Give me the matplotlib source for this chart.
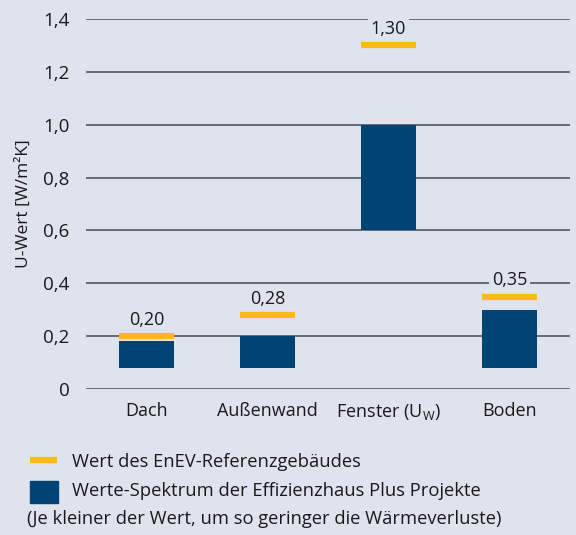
import matplotlib
matplotlib.use("Agg")
import matplotlib.pyplot as plt
from matplotlib.patches import Rectangle
from matplotlib.lines import Line2D
from matplotlib.ticker import FuncFormatter

# ---- data ----
categories = ["Dach", "Außenwand", "Fenster (U$_\\mathrm{W}$)", "Boden"]
range_low = [0.08, 0.08, 0.60, 0.08]
range_high = [0.18, 0.20, 1.00, 0.30]
reference = [0.20, 0.28, 1.30, 0.35]
yticks = [0, 0.2, 0.4, 0.6, 0.8, 1.0, 1.2, 1.4]

BG = "#dfe3ee"
BLUE = "#004374"
ORANGE = "#fbba18"
GRID = "#55575c"
TXT = "#1a1a1a"

plt.rcParams["font.family"] = ["Open Sans", "DejaVu Sans"]
plt.rcParams["mathtext.fontset"] = "custom"
plt.rcParams["mathtext.rm"] = "Open Sans"

fig = plt.figure(figsize=(5.76, 5.35), dpi=100, facecolor=BG)
ax = fig.add_axes([86 / 576, 1 - 389 / 535, 484 / 576, 370 / 535])
ax.set_facecolor(BG)

x = range(len(categories))
ax.bar(x, [h - l for h, l in zip(range_high, range_low)], bottom=range_low,
       width=0.45, color=BLUE, zorder=3)
for i, ref in enumerate(reference):
    ax.plot([i - 0.225, i + 0.225], [ref, ref], color=ORANGE, lw=4.5,
            solid_capstyle="butt", zorder=4)
    ax.text(i, ref + 0.028, f"{ref:.2f}".replace(".", ","), ha="center", va="bottom",
            fontsize=13, color=TXT, zorder=5,
            bbox=dict(facecolor=BG, edgecolor="none", pad=2))

ax.set_xlim(-0.5, 3.5)
ax.set_ylim(0, 1.4)
ax.set_yticks(yticks)
ax.yaxis.set_major_formatter(FuncFormatter(lambda v, p: "0" if v == 0 else f"{v:.1f}".replace(".", ",")))
ax.set_xticks(list(x))
ax.set_xticklabels(categories)
ax.tick_params(axis="y", length=0, pad=12, labelsize=13.5, labelcolor=TXT)
ax.tick_params(axis="x", length=0, pad=9, labelsize=13, labelcolor=TXT)
ax.grid(axis="y", color=GRID, lw=1.2, zorder=1)
for s in ax.spines.values():
    s.set_visible(False)
ax.set_ylabel("U-Wert [W/m²K]", fontsize=12.5, color=TXT, labelpad=8)

# ---- legend ----
fig.add_artist(Line2D([30 / 576, 57 / 576], [1 - 460 / 535] * 2, color=ORANGE, lw=4.5,
                      solid_capstyle="butt"))
fig.add_artist(Rectangle((30 / 576, 1 - 503 / 535), 28 / 576, 22 / 535, color=BLUE))
fig.text(72 / 576, 1 - 462 / 535, "Wert des EnEV-Referenzgebäudes", fontsize=13.2,
         va="center", color=TXT)
fig.text(72 / 576, 1 - 491 / 535, "Werte-Spektrum der Effizienzhaus Plus Projekte", fontsize=13.2,
         va="center", color=TXT)
fig.text(27 / 576, 1 - 519 / 535, "(Je kleiner der Wert, um so geringer die Wärmeverluste)",
         fontsize=13.2, va="center", color=TXT)

fig.savefig("out.png", dpi=100, facecolor=BG)
